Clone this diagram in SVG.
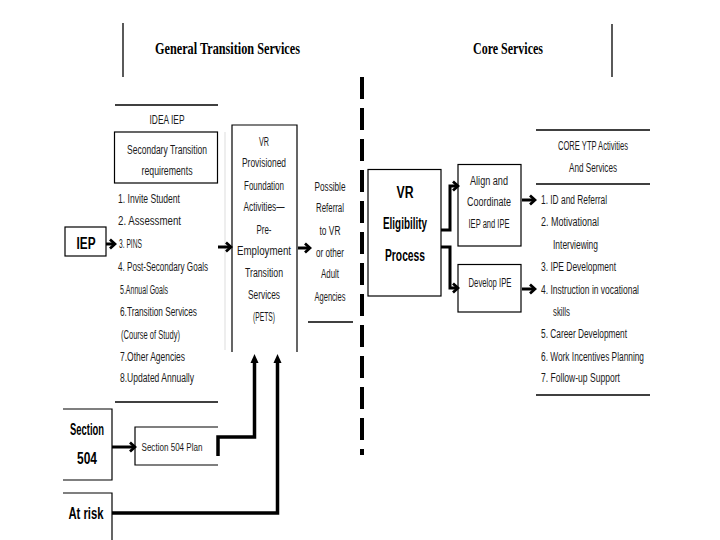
<svg xmlns="http://www.w3.org/2000/svg" width="720" height="540" viewBox="0 0 720 540">
<style>
.t{font-family:"Liberation Sans",Arial,sans-serif;font-size:12px;fill:#1a1a1a}
.c{text-anchor:middle}
.b{font-weight:bold;fill:#000}
.h{font-family:"Liberation Serif","Times New Roman",serif;font-weight:bold;font-size:17px;fill:#000}
.ln{stroke:#000;stroke-width:1.3;fill:none}
.bx{stroke:#000;stroke-width:1.2;fill:none}
.ar{stroke:#000;stroke-width:3;fill:none;marker-end:url(#chev)}
.up{stroke:#000;stroke-width:3.5;fill:none;marker-end:url(#tri)}
</style>
<defs>
<marker id="chev" markerUnits="userSpaceOnUse" markerWidth="10" markerHeight="12" refX="8" refY="6" orient="auto">
<path d="M3,1.5 L8,6 L3,10.5" stroke="#000" stroke-width="2.8" fill="none"/>
</marker>
<marker id="tri" markerUnits="userSpaceOnUse" markerWidth="10" markerHeight="10" refX="1" refY="5" orient="auto">
<path d="M0,1 L9,5 L0,9 Z" fill="#000"/>
</marker>
</defs>
<rect width="720" height="540" fill="#fff"/>

<g id="header">
<line class="ln" x1="123" y1="23" x2="123" y2="77"/>
<line class="ln" x1="612" y1="24" x2="612" y2="77"/>
<text class="h" x="155" y="54" textLength="145" lengthAdjust="spacingAndGlyphs">General Transition Services</text>
<text class="h" x="473" y="54" textLength="70" lengthAdjust="spacingAndGlyphs">Core Services</text>
</g>

<g id="divider">
<line x1="362" y1="77" x2="362" y2="455" stroke="#000" stroke-width="4" stroke-dasharray="22 9"/>
</g>

<g id="idea-iep">
<line class="ln" x1="115" y1="105" x2="218" y2="105"/>
<text class="t c" x="167" y="124" textLength="35" lengthAdjust="spacingAndGlyphs">IDEA IEP</text>
<rect class="bx" x="114.5" y="132" width="103" height="51"/>
<text class="t c" x="167" y="154" textLength="80" lengthAdjust="spacingAndGlyphs">Secondary Transition</text>
<text class="t c" x="167" y="175" textLength="51" lengthAdjust="spacingAndGlyphs">requirements</text>
<text class="t" x="118" y="203" textLength="62" lengthAdjust="spacingAndGlyphs">1. Invite Student</text>
<text class="t" x="118" y="225" textLength="63" lengthAdjust="spacingAndGlyphs">2. Assessment</text>
<text class="t" x="119" y="248" textLength="23" lengthAdjust="spacingAndGlyphs">3. PINS</text>
<text class="t" x="118" y="271" textLength="90" lengthAdjust="spacingAndGlyphs">4. Post-Secondary Goals</text>
<text class="t" x="120" y="294" textLength="48" lengthAdjust="spacingAndGlyphs">5.Annual Goals</text>
<text class="t" x="120" y="316" textLength="77" lengthAdjust="spacingAndGlyphs">6.Transition Services</text>
<text class="t" x="121" y="339" textLength="59" lengthAdjust="spacingAndGlyphs">(Course of Study)</text>
<text class="t" x="120" y="361" textLength="65" lengthAdjust="spacingAndGlyphs">7.Other Agencies</text>
<text class="t" x="120" y="382" textLength="74" lengthAdjust="spacingAndGlyphs">8.Updated Annually</text>
<line x1="225" y1="132" x2="225" y2="350" stroke="#ddd" stroke-width="1"/>
<line class="ln" x1="115" y1="402" x2="218" y2="402"/>
</g>

<g id="iep">
<rect class="bx" x="65" y="227" width="41" height="29"/>
<text class="t b c" x="86" y="249" style="font-size:16px" textLength="19" lengthAdjust="spacingAndGlyphs">IEP</text>
</g>

<g id="pets">
<path class="bx" d="M232,352 V125 H297 V352"/>
<text class="t c" x="264" y="146" textLength="10" lengthAdjust="spacingAndGlyphs">VR</text>
<text class="t c" x="264" y="167" textLength="44" lengthAdjust="spacingAndGlyphs">Provisioned</text>
<text class="t c" x="264" y="190" textLength="40" lengthAdjust="spacingAndGlyphs">Foundation</text>
<text class="t c" x="264" y="211" textLength="41" lengthAdjust="spacingAndGlyphs">Activities—</text>
<text class="t c" x="264" y="234" textLength="15" lengthAdjust="spacingAndGlyphs">Pre-</text>
<text class="t c" x="264" y="255" textLength="54" lengthAdjust="spacingAndGlyphs">Employment</text>
<text class="t c" x="264" y="277" textLength="38" lengthAdjust="spacingAndGlyphs">Transition</text>
<text class="t c" x="264" y="299" textLength="32" lengthAdjust="spacingAndGlyphs">Services</text>
<text class="t c" x="264" y="321" textLength="22" lengthAdjust="spacingAndGlyphs">(PETS)</text>
</g>

<g id="referral">
<text class="t c" x="330" y="191" textLength="31" lengthAdjust="spacingAndGlyphs">Possible</text>
<text class="t c" x="330" y="212" textLength="28" lengthAdjust="spacingAndGlyphs">Referral</text>
<text class="t c" x="330" y="235" textLength="21" lengthAdjust="spacingAndGlyphs">to VR</text>
<text class="t c" x="330" y="257" textLength="28" lengthAdjust="spacingAndGlyphs">or other</text>
<text class="t c" x="330" y="278" textLength="18" lengthAdjust="spacingAndGlyphs">Adult</text>
<text class="t c" x="330" y="301" textLength="31" lengthAdjust="spacingAndGlyphs">Agencies</text>
<line class="ln" x1="308" y1="322" x2="353" y2="322"/>
</g>

<g id="vr-eligibility">
<rect class="bx" x="368" y="169.5" width="73" height="126.5"/>
<text class="t b c" x="405" y="198" style="font-size:16px" textLength="17" lengthAdjust="spacingAndGlyphs">VR</text>
<text class="t b c" x="405" y="229" style="font-size:16px" textLength="44" lengthAdjust="spacingAndGlyphs">Eligibility</text>
<text class="t b c" x="405" y="261" style="font-size:16px" textLength="40" lengthAdjust="spacingAndGlyphs">Process</text>
</g>

<g id="align">
<rect class="bx" x="458" y="164.5" width="63" height="81.5"/>
<text class="t c" x="489" y="185" textLength="38" lengthAdjust="spacingAndGlyphs">Align and</text>
<text class="t c" x="489" y="206" textLength="44" lengthAdjust="spacingAndGlyphs">Coordinate</text>
<text class="t c" x="489" y="228" textLength="41" lengthAdjust="spacingAndGlyphs">IEP and IPE</text>
</g>

<g id="develop">
<rect class="bx" x="458" y="264.5" width="63" height="47.5"/>
<text class="t c" x="490" y="287" textLength="43" lengthAdjust="spacingAndGlyphs">Develop IPE</text>
</g>

<g id="core-ytp">
<line class="ln" x1="536" y1="130" x2="650" y2="130"/>
<text class="t c" x="593" y="150" textLength="70" lengthAdjust="spacingAndGlyphs">CORE YTP Activities</text>
<text class="t c" x="593" y="172" textLength="48" lengthAdjust="spacingAndGlyphs">And Services</text>
<line class="ln" x1="536" y1="184" x2="650" y2="184"/>
<text class="t" x="541" y="204" textLength="66" lengthAdjust="spacingAndGlyphs">1. ID and Referral</text>
<text class="t" x="541" y="226" textLength="58" lengthAdjust="spacingAndGlyphs">2. Motivational</text>
<text class="t" x="553" y="249" textLength="45" lengthAdjust="spacingAndGlyphs">Interviewing</text>
<text class="t" x="541" y="271" textLength="75" lengthAdjust="spacingAndGlyphs">3. IPE Development</text>
<text class="t" x="541" y="294" textLength="98" lengthAdjust="spacingAndGlyphs">4. Instruction in vocational</text>
<text class="t" x="553" y="316" textLength="17" lengthAdjust="spacingAndGlyphs">skills</text>
<text class="t" x="541" y="338" textLength="86" lengthAdjust="spacingAndGlyphs">5. Career Development</text>
<text class="t" x="541" y="361" textLength="103" lengthAdjust="spacingAndGlyphs">6. Work Incentives Planning</text>
<text class="t" x="541" y="382" textLength="79" lengthAdjust="spacingAndGlyphs">7. Follow-up Support</text>
<line class="ln" x1="536" y1="395" x2="650" y2="395"/>
</g>

<g id="section504">
<path class="bx" d="M63,409 H112 V480 H63"/>
<text class="t b c" x="87" y="435" style="font-size:16px" textLength="34" lengthAdjust="spacingAndGlyphs">Section</text>
<text class="t b c" x="87" y="464" style="font-size:16px" textLength="20" lengthAdjust="spacingAndGlyphs">504</text>
</g>

<g id="section504-plan">
<path class="bx" d="M218,427 H135 V465 H218"/>
<text class="t c" x="172" y="451" style="font-size:10px" textLength="61" lengthAdjust="spacingAndGlyphs">Section 504 Plan</text>
</g>

<g id="at-risk">
<path class="bx" d="M63,493 H112 V540"/>
<text class="t b c" x="86" y="519" style="font-size:16px" textLength="35" lengthAdjust="spacingAndGlyphs">At risk</text>
</g>

<g id="connectors">
<line class="ar" x1="106" y1="244" x2="115" y2="244"/>
<line class="ar" x1="218" y1="247" x2="231" y2="247"/>
<line class="ar" x1="298" y1="248" x2="310" y2="248"/>
<path class="ar" d="M441,230 H450 V186 H458"/>
<path class="ar" d="M441,247 H450 V288 H458"/>
<line class="ar" x1="522" y1="200" x2="535" y2="200"/>
<line class="ar" x1="522" y1="289" x2="535" y2="289"/>
<line class="ar" x1="112" y1="447" x2="135" y2="447"/>
<path class="up" d="M218,456 V437 H254.5 V362"/>
<path class="up" d="M112,513 H277.5 V362"/>
</g>
</svg>
